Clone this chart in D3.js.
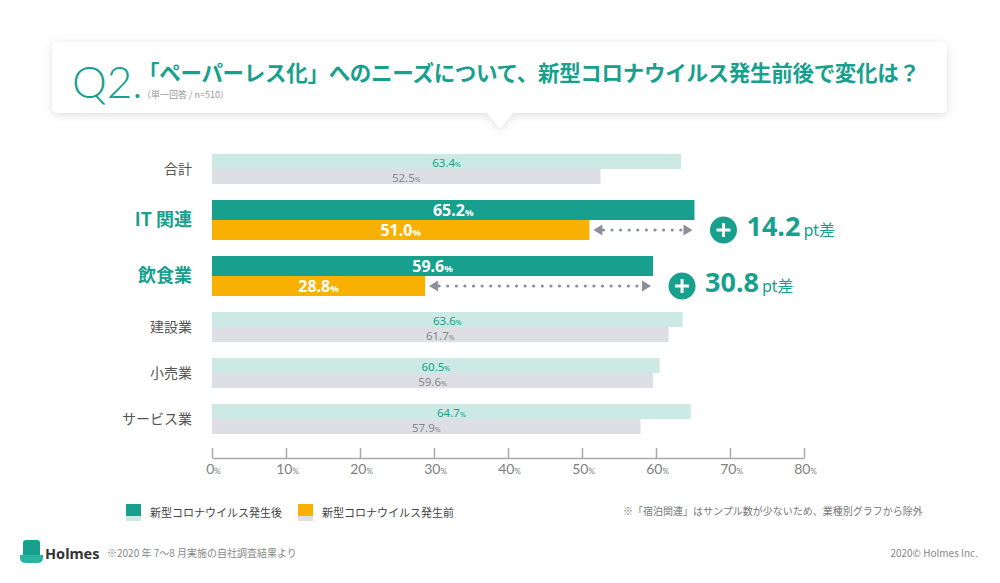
<!DOCTYPE html>
<html>
<head>
<meta charset="utf-8">
<script src="https://cdn.jsdelivr.net/npm/d3@7"></script>
<style>
  body { margin: 0; background: #fff; }
  svg { display: block; font-family: "Noto Sans CJK JP", "Noto Sans", sans-serif; }
</style>
</head>
<body>
<svg id="chart" width="1000" height="583"></svg>
<script>
// chart data
const categories = ["合計", "IT 関連", "飲食業", "建設業", "小売業", "サービス業"];
const afterValues = [63.4, 65.2, 59.6, 63.6, 60.5, 64.7];
const beforeValues = [52.5, 51.0, 28.8, 61.7, 59.6, 57.9];
const highlighted = ["IT 関連", "飲食業"];
const xTicks = [0, 10, 20, 30, 40, 50, 60, 70, 80];
const seriesNames = ["新型コロナウイルス発生後", "新型コロナウイルス発生前"];

const teal = "#17a08e";
const orange = "#f8b102";
const lightTeal = "#cde9e3";
const lightGrey = "#dddfe5";

const svg = d3.select("#chart");

// drop shadow for the question box
const defs = svg.append("defs");
const shadow = defs.append("filter").attr("id", "shadow")
    .attr("x", "-5%").attr("y", "-30%").attr("width", "110%").attr("height", "160%");
shadow.append("feDropShadow")
    .attr("dx", 0).attr("dy", 2).attr("stdDeviation", 4)
    .attr("flood-color", "#000").attr("flood-opacity", 0.13);

// question box with its pointer
const box = svg.append("g").attr("filter", "url(#shadow)");
box.append("rect")
    .attr("x", 52).attr("y", 42).attr("width", 895).attr("height", 71)
    .attr("rx", 6).attr("fill", "#fff");
box.append("path")
    .attr("d", "M486,112 L500,128 L514,112 Z")
    .attr("fill", "#fff");

svg.append("text")
    .attr("x", 72).attr("y", 98)
    .attr("font-family", "Lato, 'Noto Sans', sans-serif")
    .attr("font-weight", 300)
    .attr("font-size", 44)
    .attr("fill", teal)
    .text("Q2.");

svg.append("text")
    .attr("x", 138).attr("y", 81)
    .attr("font-size", 21.5)
    .attr("font-weight", 700)
    .attr("fill", teal)
    .attr("textLength", 782)
    .text("「ペーパーレス化」へのニーズについて、新型コロナウイルス発生前後で変化は？");

svg.append("text")
    .attr("x", 142).attr("y", 98)
    .attr("font-size", 9)
    .attr("fill", "#999")
    .text("（単一回答 / n=510）");

// scales
const x = d3.scaleLinear().domain([0, 80]).range([212, 804]);

// rows: highlighted rows are taller than the others
const rowHeight = d => highlighted.includes(d) ? 40 : 30;
const rowGap = 16;
const rowTops = [];
categories.reduce((top, c) => { rowTops.push(top); return top + rowHeight(c) + rowGap; }, 154);
const y = d3.scaleOrdinal().domain(categories).range(rowTops);

const rows = categories.map((c, i) => ({
    name: c,
    after: afterValues[i],
    before: beforeValues[i],
    hi: highlighted.includes(c)
}));

// x axis
const axis = svg.append("g")
    .attr("transform", "translate(0,458)")
    .call(d3.axisBottom(x).tickValues(xTicks).tickSizeInner(-10).tickSizeOuter(0).tickPadding(9));
axis.select(".domain").attr("stroke", "#aaa").attr("stroke-width", 1.5);
axis.selectAll(".tick line").attr("stroke", "#aaa").attr("stroke-width", 1.5);
axis.selectAll(".tick text").each(function (d) {
    const t = d3.select(this).text("")
        .attr("font-family", "Lato, 'Noto Sans', sans-serif")
        .attr("fill", "#808080").attr("text-anchor", "middle").attr("x", 1);
    t.append("tspan").attr("font-size", 14).text(d);
    t.append("tspan").attr("font-size", 8).text("%");
});

// bars
const row = svg.selectAll(".row").data(rows).join("g")
    .attr("class", "row")
    .attr("transform", d => `translate(0,${y(d.name)})`);

row.append("rect")
    .attr("x", x(0))
    .attr("y", 0)
    .attr("width", d => x(d.after) - x(0))
    .attr("height", d => rowHeight(d.name) / 2)
    .attr("fill", d => d.hi ? teal : lightTeal);

row.append("rect")
    .attr("x", x(0))
    .attr("y", d => rowHeight(d.name) / 2)
    .attr("width", d => x(d.before) - x(0))
    .attr("height", d => rowHeight(d.name) / 2)
    .attr("fill", d => d.hi ? orange : lightGrey);

// value labels centred on each bar
function valueLabel(sel, key, pos) {
    const t = sel.append("text")
        .attr("x", d => (x(0) + x(d[key])) / 2)
        .attr("y", d => rowHeight(d.name) / 4 * pos)
        .attr("dy", "0.36em")
        .attr("text-anchor", "middle")
        .attr("font-family", "'Noto Sans', sans-serif")
        .attr("font-weight", d => d.hi ? 700 : 400)
        .attr("fill", d => d.hi ? "#fff" : (key === "after" ? teal : "#888"));
    t.append("tspan")
        .attr("font-size", d => d.hi ? 16 : 11.5)
        .text(d => d3.format(".1f")(d[key]));
    t.append("tspan")
        .attr("font-size", d => d.hi ? 9.5 : 7)
        .text("%");
}
valueLabel(row, "after", 1);
valueLabel(row, "before", 3);

// category labels
row.append("text")
    .attr("x", 192)
    .attr("y", d => rowHeight(d.name) / 2)
    .attr("dy", "0.35em")
    .attr("text-anchor", "end")
    .attr("font-size", d => d.hi ? 18 : 14)
    .attr("font-weight", d => d.hi ? 700 : 400)
    .attr("fill", d => d.hi ? teal : "#555")
    .text(d => d.name);

// difference arrows and badges for highlighted rows
const hiRows = row.filter(d => d.hi);
const arrowGrey = "#8b8e9b";
const midY = d => rowHeight(d.name) * 3 / 4;

hiRows.append("line")
    .attr("x1", d => x(d.before) + 14)
    .attr("x2", d => x(d.after) - 10)
    .attr("y1", midY).attr("y2", midY)
    .attr("stroke", arrowGrey)
    .attr("stroke-width", 3.2)
    .attr("stroke-linecap", "round")
    .attr("stroke-dasharray", "0 8.6");

hiRows.append("path")
    .attr("d", d => `M${x(d.before) + 4},${midY(d)} l9,-5.5 v11 Z`)
    .attr("fill", arrowGrey);
hiRows.append("path")
    .attr("d", d => `M${x(d.after) - 2},${midY(d)} l-9,-5.5 v11 Z`)
    .attr("fill", arrowGrey);

const badge = hiRows.append("g")
    .attr("transform", d => `translate(${x(d.after) + 29},${midY(d)})`);
badge.append("circle").attr("r", 13.5).attr("fill", teal);
badge.append("path")
    .attr("d", "M-7,0 H7 M0,-7 V7")
    .attr("stroke", "#fff").attr("stroke-width", 3);

const diffText = badge.append("text")
    .attr("x", 23)
    .attr("dy", "0.36em")
    .attr("fill", teal)
    .attr("font-family", "'Noto Sans', sans-serif");
diffText.append("tspan")
    .attr("font-size", 27).attr("font-weight", 700)
    .text(d => d3.format(".1f")(d.after - d.before));
diffText.append("tspan")
    .attr("font-size", 16).attr("dx", 3)
    .attr("font-family", "'Noto Sans CJK JP', sans-serif")
    .text("pt差");

// legend
const legend = svg.append("g").attr("transform", "translate(126,504)");
const legendItems = legend.selectAll("g").data(seriesNames).join("g")
    .attr("transform", (d, i) => `translate(${i * 172},0)`);
legendItems.append("rect")
    .attr("width", 15).attr("height", 12)
    .attr("fill", (d, i) => i === 0 ? teal : orange);
legendItems.append("rect")
    .attr("y", 12).attr("width", 15).attr("height", 5)
    .attr("fill", (d, i) => i === 0 ? lightTeal : lightGrey);
legendItems.append("text")
    .attr("x", 24).attr("y", 9)
    .attr("dy", "0.35em")
    .attr("font-size", 11)
    .attr("fill", "#444")
    .text(d => d);

svg.append("text")
    .attr("x", 623).attr("y", 515)
    .attr("font-size", 10)
    .attr("fill", "#777")
    .text("※「宿泊関連」はサンプル数が少ないため、業種別グラフから除外");

// footer
const logo = svg.append("g").attr("transform", "translate(20,540)");
logo.append("path")
    .attr("d", "M3,3 Q3,0 6,0 H17 Q20,0 20,3 V15 H3 Z")
    .attr("fill", teal);
logo.append("path")
    .attr("d", "M0,15 H23 V18 Q23,23 17,23 H6 Q0,23 0,18 Z")
    .attr("fill", "#2cb3a0");
svg.append("text")
    .attr("x", 45).attr("y", 559)
    .attr("font-family", "'Noto Sans', sans-serif")
    .attr("font-weight", 700)
    .attr("font-size", 14.5)
    .attr("fill", "#333")
    .text("Holmes");

svg.append("text")
    .attr("x", 107).attr("y", 557)
    .attr("font-size", 10)
    .attr("fill", "#888")
    .text("※2020 年 7〜8 月実施の自社調査結果より");

svg.append("text")
    .attr("x", 978).attr("y", 557)
    .attr("text-anchor", "end")
    .attr("font-size", 10)
    .attr("fill", "#888")
    .text("2020© Holmes Inc.");
</script>
</body>
</html>
